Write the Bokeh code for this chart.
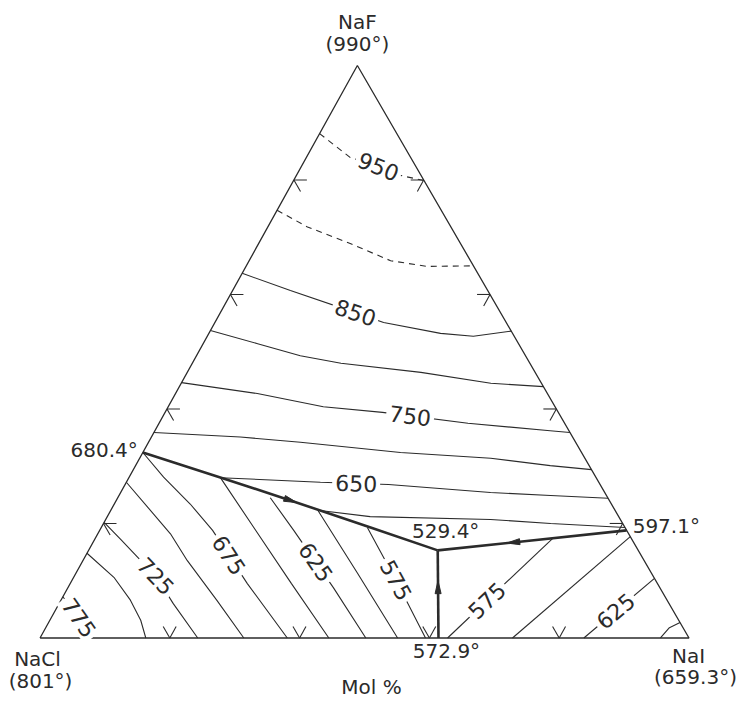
import math

from bokeh.embed import file_html
from bokeh.models import Label, Range1d
from bokeh.plotting import figure
from bokeh.resources import INLINE

# ---------------------------------------------------------------------------
# NaF - NaCl - NaI liquidus surface (compositions in mol %: NaF, NaI;
# NaCl is the balance).
# ---------------------------------------------------------------------------

# Pure components and their melting points (deg C)
COMPONENTS = ["NaF", "NaCl", "NaI"]
MELT_T = [990, 801, 659.3]

# Invariant points: binary eutectics and the ternary eutectic
INV_T = [680.4, 529.4, 597.1, 572.9]
INV_NAF = [32.4, 15.3, 18.8, 0.0]
INV_NAI = [0.0, 53.8, 81.2, 61.4]

# Univariant boundary curves, each running toward the ternary eutectic
BND_CL_F_NAF = [32.4, 27.9, 24.2, 19.3, 15.3]
BND_CL_F_NAI = [0.0, 14.5, 26.3, 41.5, 53.8]
BND_F_I_NAF = [18.8, 15.3]
BND_F_I_NAI = [81.2, 53.8]
BND_CL_I_NAF = [0.0, 15.3]
BND_CL_I_NAI = [61.4, 53.8]

# Isotherms in the NaF primary field
F950_NAF = [88.1, 83.9, 82.4, 80.8, 79.9]
F950_NAI = [0.0, 6.8, 11.7, 16.0, 20.1]
F900_NAF = [74.7, 71.8, 68.9, 65.9, 64.9, 65.0]
F900_NAI = [0.0, 6.1, 14.1, 21.8, 27.9, 35.0]
F850_NAF = [63.7, 60.7, 56.7, 55.1, 53.2, 52.7, 53.6]
F850_NAI = [0.0, 8.9, 21.2, 26.0, 35.7, 41.0, 46.4]
F800_NAF = [53.7, 51.4, 49.3, 48.0, 46.4, 44.5, 43.9]
F800_NAI = [0.0, 8.4, 16.0, 22.9, 36.0, 47.7, 56.1]
F750_NAF = [44.6, 42.7, 40.4, 39.4, 37.5, 36.2, 35.9]
F750_NAI = [0.0, 12.6, 23.9, 33.5, 47.6, 60.9, 64.1]
F700_NAF = [35.9, 35.1, 34.2, 32.4, 31.4, 30.1, 29.4]
F700_NAI = [0.0, 13.7, 23.4, 39.7, 54.1, 63.9, 70.6]
F650_NAF = [28.0, 27.2, 26.8, 25.4, 24.9, 24.4]
F650_NAI = [14.1, 29.9, 40.6, 57.0, 66.5, 75.6]
F600_NAF = [22.3, 21.2, 20.7, 20.0, 19.3]
F600_NAI = [31.9, 40.5, 59.3, 68.9, 80.7]

# Isotherms in the NaCl primary field
C775_NAF = [7.2, 3.6, 0.0]
C775_NAI = [0.0, 4.2, 8.2]
C750_NAF = [14.8, 10.6, 6.6, 3.1, 0.0]
C750_NAI = [0.0, 6.2, 10.7, 14.0, 16.3]
C725_NAF = [20.2, 17.0, 10.6, 6.0, 0.0]
C725_NAI = [0.0, 4.3, 12.8, 17.6, 24.3]
C700_NAF = [27.2, 18.2, 13.5, 6.6, 0.0]
C700_NAI = [0.0, 11.2, 16.1, 24.0, 31.4]
C675_NAF = [32.4, 28.1, 23.4, 18.8, 9.5, 0.0]
C675_NAI = [0.0, 5.3, 11.7, 17.4, 27.3, 38.1]
C650_NAF = [28.0, 19.3, 9.5, 0.0]
C650_NAI = [14.1, 23.5, 34.1, 44.5]
C625_NAF = [24.5, 18.8, 8.8, 0.0]
C625_NAI = [23.5, 29.9, 40.9, 50.2]
C600_NAF = [22.3, 11.3, 0.0]
C600_NAI = [31.9, 43.4, 55.1]
C575_NAF = [19.3, 10.0, 0.0]
C575_NAI = [41.0, 50.0, 59.4]

# Isotherms in the NaI primary field
I575_NAF = [0.0, 17.4]
I575_NAI = [62.8, 70.5]
I600_NAF = [0.0, 17.7]
I600_NAI = [72.8, 82.3]
I625_NAF = [0.0, 10.4]
I625_NAI = [83.8, 89.6]
I650_NAF = [0.0, 1.8, 2.7]
I650_NAI = [95.6, 96.1, 97.3]

# Composition scale marks along every edge (mol %)
EDGE_TICKS = [20, 40, 60, 80]

# ---------------------------------------------------------------------------
# Drawing set-up
# ---------------------------------------------------------------------------
W, H = 741, 702
X0, X1 = -0.0609, 1.0809
Y0, Y1 = -0.1127, 1.1135
SX = W / (X1 - X0)          # screen px per unit of x
SY = H / (Y1 - Y0)          # screen px per unit of y
APEX_X = 0.489              # horizontal position of the NaF corner
INK = "#2b2b2b"
FONT = "DejaVu Sans"


def tern(naf, nai):
    """Ternary composition (mol %) -> plot coordinates."""
    xs = [i / 100.0 + APEX_X * f / 100.0 for f, i in zip(naf, nai)]
    ys = [f / 100.0 for f in naf]
    return xs, ys


def along(naf, nai, t):
    """Screen point and unit direction at fraction t of the curve's length."""
    xs, ys = tern(naf, nai)
    pts = [(x * SX, y * SY) for x, y in zip(xs, ys)]
    seg = [math.dist(pts[k], pts[k + 1]) for k in range(len(pts) - 1)]
    target = t * sum(seg)
    acc = 0.0
    for k, s in enumerate(seg):
        if acc + s >= target or k == len(seg) - 1:
            u = (target - acc) / s if s else 0.0
            (ax, ay), (bx, by) = pts[k], pts[k + 1]
            px, py = ax + u * (bx - ax), ay + u * (by - ay)
            dx, dy = (bx - ax) / s, (by - ay) / s
            return px, py, dx, dy
        acc += s


p = figure(width=W, height=H, x_range=Range1d(X0, X1), y_range=Range1d(Y0, Y1),
           output_backend="svg", toolbar_location=None, min_border=0,
           x_axis_type=None, y_axis_type=None)
p.outline_line_color = None
p.background_fill_color = "white"
p.border_fill_color = "white"

# Triangle outline: NaCl -> NaI -> NaF -> NaCl
ex, ey = tern([0, 0, 100, 0], [0, 100, 0, 0])
p.line(ex, ey, line_color=INK, line_width=1.3)

# Edge scale marks: two short strokes along the composition grid directions
L = 2.0
tick_x, tick_y = [], []
for t in EDGE_TICKS:
    arms = [
        # NaCl-NaF edge
        ([t, t], [0, L]), ([t, t - L], [0, L]),
        # NaF-NaI edge
        ([t, t], [100 - t, 100 - t - L]), ([t, t - L], [100 - t, 100 - t]),
        # NaCl-NaI edge
        ([0, L], [t, t - L]), ([0, L], [t, t]),
    ]
    for fa, ia in arms:
        xa, ya = tern(fa, ia)
        tick_x.append(xa)
        tick_y.append(ya)
p.multi_line(tick_x, tick_y, line_color=INK, line_width=1.1)

# Isotherms: (temperature, NaF, NaI, dashed, label position along the curve)
ISOTHERMS = [
    (950, F950_NAF, F950_NAI, True, 0.59),
    (900, F900_NAF, F900_NAI, True, None),
    (850, F850_NAF, F850_NAI, False, 0.43),
    (800, F800_NAF, F800_NAI, False, None),
    (750, F750_NAF, F750_NAI, False, 0.59),
    (700, F700_NAF, F700_NAI, False, None),
    (650, F650_NAF, F650_NAI, False, 0.35),
    (600, F600_NAF, F600_NAI, False, None),
    (775, C775_NAF, C775_NAI, False, 0.52),
    (750, C750_NAF, C750_NAI, False, None),
    (725, C725_NAF, C725_NAI, False, 0.50),
    (700, C700_NAF, C700_NAI, False, None),
    (675, C675_NAF, C675_NAI, False, 0.57),
    (650, C650_NAF, C650_NAI, False, None),
    (625, C625_NAF, C625_NAI, False, 0.465),
    (600, C600_NAF, C600_NAI, False, None),
    (575, C575_NAF, C575_NAI, False, 0.48),
    (575, I575_NAF, I575_NAI, False, 0.375),
    (600, I600_NAF, I600_NAI, False, None),
    (625, I625_NAF, I625_NAI, False, 0.45),
    (650, I650_NAF, I650_NAI, False, None),
]

for temp, naf, nai, dashed, lab_t in ISOTHERMS:
    xs, ys = tern(naf, nai)
    p.line(xs, ys, line_color=INK, line_width=1.1,
           line_dash="6 5" if dashed else "solid")
    if lab_t is not None:
        px, py, dx, dy = along(naf, nai, lab_t)
        ang = math.atan2(dy, dx)
        if ang > math.pi / 2:
            ang -= math.pi
        elif ang < -math.pi / 2:
            ang += math.pi
        p.add_layout(Label(x=px / SX, y=py / SY, text=f"{temp}", angle=ang,
                           text_align="center", text_baseline="middle",
                           text_font=FONT, text_font_size="22px",
                           text_color=INK, background_fill_color="white",
                           padding=3))

# Univariant boundaries (heavy) with direction-of-falling-temperature arrows
BOUNDARIES = [
    (BND_CL_F_NAF, BND_CL_F_NAI, 0.50),
    (BND_F_I_NAF, BND_F_I_NAI, 0.60),
    (BND_CL_I_NAF, BND_CL_I_NAI, 0.58),
]
head_x, head_y = [], []
for naf, nai, t in BOUNDARIES:
    xs, ys = tern(naf, nai)
    p.line(xs, ys, line_color=INK, line_width=2.6)
    px, py, dx, dy = along(naf, nai, t)
    nx, ny = -dy, dx
    hl, hw = 13.0, 6.0
    tri = [(px + dx * hl / 2, py + dy * hl / 2),
           (px - dx * hl / 2 + nx * hw / 2, py - dy * hl / 2 + ny * hw / 2),
           (px - dx * hl / 2 - nx * hw / 2, py - dy * hl / 2 - ny * hw / 2)]
    head_x.append([q[0] / SX for q in tri])
    head_y.append([q[1] / SY for q in tri])
p.patches(head_x, head_y, fill_color=INK, line_color=INK, line_width=1)

# Invariant-point temperatures
INV_LAYOUT = [("right", -5, 2), ("center", 8, 19), ("left", 6, 4), ("center", 8, -13.5)]
ix, iy = tern(INV_NAF, INV_NAI)
for x, y, temp, (align, dx, dy) in zip(ix, iy, INV_T, INV_LAYOUT):
    p.add_layout(Label(x=x, y=y, x_offset=dx, y_offset=dy, text=f"{temp}°",
                       text_align=align, text_baseline="middle",
                       text_font=FONT, text_font_size="20px", text_color=INK))

# Corner names with melting points
VERTEX_NAF = [100, 0, 0]
VERTEX_NAI = [0, 0, 100]
VERTEX_LAYOUT = [((0, 43), (0, 21)), ((-2.5, -21.5), (0.5, -43.5)),
                 ((-0.5, -18.5), (6.5, -39.5))]
vx, vy = tern(VERTEX_NAF, VERTEX_NAI)
for x, y, name, tm, (o1, o2) in zip(vx, vy, COMPONENTS, MELT_T, VERTEX_LAYOUT):
    p.add_layout(Label(x=x, y=y, x_offset=o1[0], y_offset=o1[1], text=name,
                       text_align="center", text_baseline="middle",
                       text_font=FONT, text_font_size="20px", text_color=INK))
    p.add_layout(Label(x=x, y=y, x_offset=o2[0], y_offset=o2[1], text=f"({tm:g}°)",
                       text_align="center", text_baseline="middle",
                       text_font=FONT, text_font_size="20px", text_color=INK))

# Composition unit under the base
p.add_layout(Label(x=0.5, y=0.0, x_offset=7, y_offset=-49.5, text="Mol %",
                   text_align="center", text_baseline="middle",
                   text_font=FONT, text_font_size="20px", text_color=INK))

open("out.html", "w").write(file_html(p, INLINE))
